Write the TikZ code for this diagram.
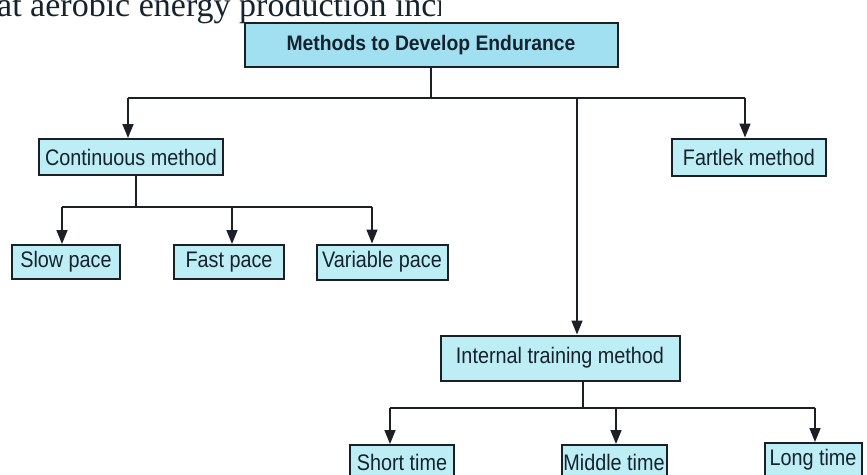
\documentclass[tikz,border=0pt]{standalone}
\usepackage{fontspec}
\setmainfont{Liberation Serif}
\newfontfamily\boxfont[FakeStretch=0.88]{Liberation Sans}
\newfontfamily\titlefont[FakeStretch=0.92]{Liberation Sans}
\usetikzlibrary{arrows.meta}
\definecolor{boxfill}{RGB}{190,238,245}
\definecolor{titlefill}{RGB}{160,224,240}
\definecolor{edge}{RGB}{28,32,38}
\definecolor{ink}{RGB}{22,34,44}
\tikzset{
  box/.style={draw=edge, line width=2pt, fill=boxfill, text=ink, inner sep=0pt,
    font=\boxfont\fontsize{22.5}{24}\selectfont, align=center},
  titlebox/.style={box, fill=titlefill, font=\titlefont\bfseries\fontsize{21}{23}\selectfont},
  link/.style={draw=edge, line width=1.6pt},
  arr/.style={link, -{Triangle[length=14pt,width=11pt]}},
}
\begin{document}
\begin{tikzpicture}[x=1pt,y=-1pt]
\useasboundingbox (0,0) rectangle (867,474);
\fill[white] (0,0) rectangle (867,474);
\begin{scope}
\clip (0,0) rectangle (867,474);
% cut-off book text at top
\begin{scope}
\clip (0,0) rectangle (440,40);
\node[anchor=base west, inner sep=0pt, font=\fontsize{34}{36}\selectfont, text=ink] (booktext) at (-3,16) {at aerobic energy production increases,};
\end{scope}
% nodes
\node[titlebox, minimum width=373pt, minimum height=44pt] (title) at (431,45) {Methods to Develop Endurance};
\node[box, minimum width=184pt, minimum height=36pt] (cont) at (131,157) {Continuous method};
\node[box, minimum width=154pt, minimum height=37pt] (fart) at (749,157) {Fartlek method};
\node[box, minimum width=108pt, minimum height=34pt] (slow) at (66,262) {Slow pace};
\node[box, minimum width=110pt, minimum height=34pt] (fast) at (229,262) {Fast pace};
\node[box, minimum width=131pt, minimum height=35pt] (var) at (382,262) {Variable pace};
\node[box, minimum width=239pt, minimum height=45pt] (inter) at (560,358) {Internal training method};
\node[box, minimum width=104pt, minimum height=34pt] (short) at (402,462) {Short time};
\node[box, minimum width=105pt, minimum height=34pt] (middle) at (614,462) {Middle time};
\node[box, minimum width=97pt, minimum height=34pt] (long) at (813,460) {Long time};
% connectors from title
\coordinate (j0) at (431,98);
\coordinate (jc) at (128,98);
\coordinate (ji) at (577,98);
\coordinate (jf) at (745,98);
\draw[link] (title.south) -- (j0);
\draw[link] (jc) -- (jf);
\draw[arr] (jc) -- (jc |- cont.north);
\draw[arr] (ji) -- (ji |- inter.north);
\draw[arr] (jf) -- (jf |- fart.north);
% continuous children
\coordinate (k0) at (136,207);
\coordinate (ks) at (62,207);
\coordinate (kf) at (232,207);
\coordinate (kv) at (372,207);
\draw[link] (cont.south -| k0) -- (k0);
\draw[link] (ks) -- (kv);
\draw[arr] (ks) -- (ks |- slow.north);
\draw[arr] (kf) -- (kf |- fast.north);
\draw[arr] (kv) -- (kv |- var.north);
% internal children
\coordinate (m0) at (583,408);
\coordinate (ms) at (390,408);
\coordinate (mm) at (616,408);
\coordinate (ml) at (815,408);
\draw[link] (inter.south -| m0) -- (m0);
\draw[link] (ms) -- (ml);
\draw[arr] (ms) -- (ms |- short.north);
\draw[arr] (mm) -- (mm |- middle.north);
\draw[arr] (ml) -- (ml |- long.north);
\end{scope}
\end{tikzpicture}
\end{document}
